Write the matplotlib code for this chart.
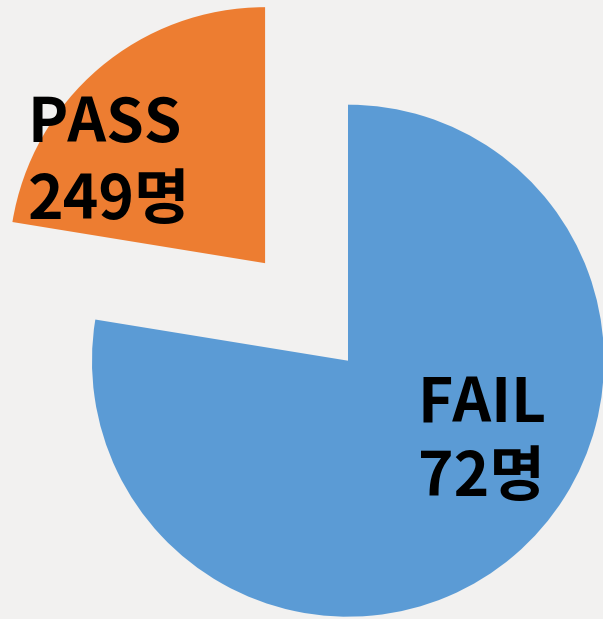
import matplotlib
matplotlib.use("Agg")
from matplotlib import pyplot as plt

plt.rcParams['font.family'] = ['Noto Sans CJK KR', 'DejaVu Sans']

# slice sizes as drawn (blue big, orange small) and the labels printed on them
NAMES = ["FAIL", "PASS"]
SIZES = [249, 72]
LABEL_COUNTS = [72, 249]  # the picture prints these numbers on the slices
COLORS = ["#5B9BD5", "#ED7D31"]
EXPLODE = [0, 0.5]
BG = "#f2f1f0"

fig = plt.figure(figsize=(6.03, 6.19), dpi=100)
fig.patch.set_facecolor(BG)
ax = fig.add_axes([0, 0, 1, 1])
ax.set_facecolor(BG)

ax.pie(SIZES, colors=COLORS, explode=EXPLODE, startangle=90, counterclock=False,
       radius=1, wedgeprops=dict(linewidth=0))

# px per unit = 256, blue center at (348, 360.7) px from top-left
ax.set_xlim(-348 / 256, 255 / 256)
ax.set_ylim(-258.3 / 256, 360.7 / 256)
ax.set_aspect('equal')
ax.axis('off')

# label positions (left edge, baseline of first line)
label_pos = [(0.272, -0.243), (-1.252, 0.854)]
line_gap = [0.285, 0.30]
for name, cnt, (x, y), gap in zip(NAMES, LABEL_COUNTS, label_pos, line_gap):
    ax.text(x, y, name, fontsize=43.5, fontweight='bold', color='black',
            ha='left', va='baseline')
    ax.text(x, y - gap, f"{cnt}명", fontsize=43.5, fontweight='bold', color='black',
            ha='left', va='baseline')

fig.savefig("out.png", dpi=100, facecolor=BG)
